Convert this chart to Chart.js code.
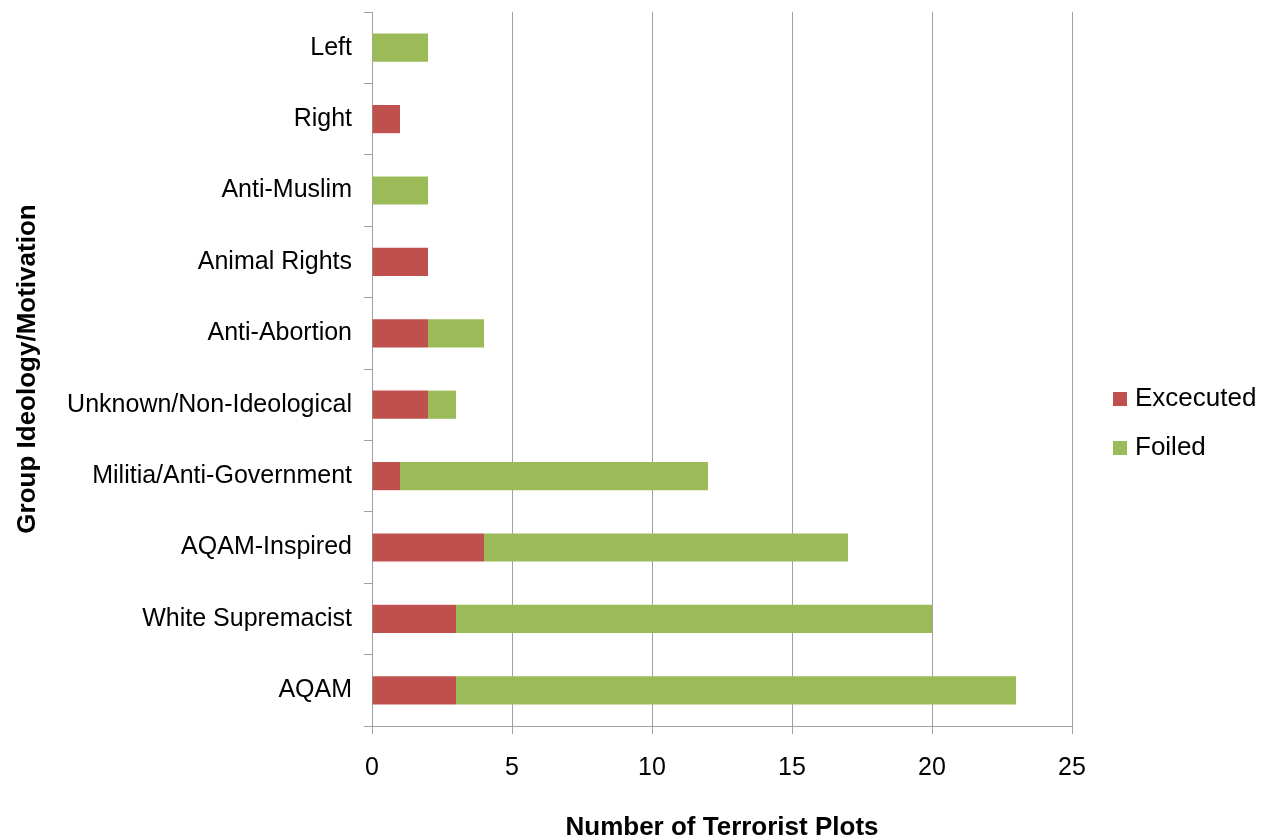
<!DOCTYPE html>
<html>
<head>
<meta charset="utf-8">
<style>
  html, body { margin: 0; padding: 0; background: #ffffff; }
  #wrap { width: 1270px; height: 840px; position: relative; }
</style>
<script src="https://cdn.jsdelivr.net/npm/chart.js@4.4.1/dist/chart.umd.min.js"></script>
</head>
<body>
<div id="wrap"><canvas id="plots" width="1270" height="840"></canvas></div>
<script>
// Terrorist plots by group ideology, split into executed and foiled
const categories = [
  'Left', 'Right', 'Anti-Muslim', 'Animal Rights', 'Anti-Abortion',
  'Unknown/Non-Ideological', 'Militia/Anti-Government', 'AQAM-Inspired',
  'White Supremacist', 'AQAM'
];
const executed = [0, 1, 0, 2, 2, 2, 1, 4, 3, 3];
const foiled   = [2, 0, 2, 0, 2, 1, 11, 13, 17, 20];
const xTicks = [0, 5, 10, 15, 20, 25];

const seriesNames = ['Excecuted', 'Foiled'];
const seriesColors = ['#C0504D', '#9BBB59'];

const FONT = 'Liberation Sans, Arial, Helvetica, sans-serif';
const GRID = '#a0a0a0';

// Simple square-swatch legend drawn to the right of the plot area
const sideLegend = {
  id: 'sideLegend',
  afterDraw(chart) {
    const ctx = chart.ctx;
    const rows = [399, 448];
    ctx.save();
    ctx.font = '26px ' + FONT;
    ctx.textBaseline = 'middle';
    ctx.textAlign = 'left';
    chart.data.datasets.forEach((ds, i) => {
      const cy = rows[i];
      ctx.fillStyle = ds.backgroundColor;
      ctx.fillRect(1113, cy - 7, 14, 14);
      ctx.fillStyle = '#000000';
      ctx.fillText(ds.label, 1135, cy);
    });
    ctx.restore();
  }
};

new Chart(document.getElementById('plots'), {
  type: 'bar',
  data: {
    labels: categories,
    datasets: [
      { label: seriesNames[0], data: executed, backgroundColor: seriesColors[0],
        categoryPercentage: 1, barPercentage: 0.395 },
      { label: seriesNames[1], data: foiled, backgroundColor: seriesColors[1],
        categoryPercentage: 1, barPercentage: 0.395 }
    ]
  },
  options: {
    indexAxis: 'y',
    responsive: false,
    animation: false,
    layout: { padding: { top: 12, right: 198, bottom: 0, left: 0 } },
    plugins: {
      legend: { display: false },
      tooltip: { enabled: false }
    },
    scales: {
      x: {
        stacked: true,
        min: 0,
        max: 25,
        afterBuildTicks(scale) { scale.ticks = xTicks.map(v => ({ value: v })); },
        afterFit(scale) { scale.height = 114; },
        grid: { color: GRID, lineWidth: 1, tickLength: 8, drawTicks: true },
        border: { color: GRID, width: 1 },
        ticks: { color: '#000000', padding: 19, font: { family: FONT, size: 25 } },
        title: {
          display: true,
          text: 'Number of Terrorist Plots',
          color: '#000000',
          font: { family: FONT, size: 26, weight: 'bold' },
          padding: { top: 0, bottom: -3 }
        }
      },
      y: {
        stacked: true,
        afterFit(scale) {
          scale.width = 372;
          scale.paddingTop = 0;
          scale.paddingBottom = 0;
        },
        grid: { drawOnChartArea: false, drawTicks: true, tickLength: 8, color: GRID, offset: true },
        border: { color: GRID, width: 1 },
        ticks: { color: '#000000', padding: 12, font: { family: FONT, size: 25 } },
        title: {
          display: true,
          text: 'Group Ideology/Motivation',
          color: '#000000',
          font: { family: FONT, size: 26, weight: 'bold' },
          padding: { top: 12, bottom: 0 }
        }
      }
    }
  },
  plugins: [sideLegend]
});
</script>
</body>
</html>
